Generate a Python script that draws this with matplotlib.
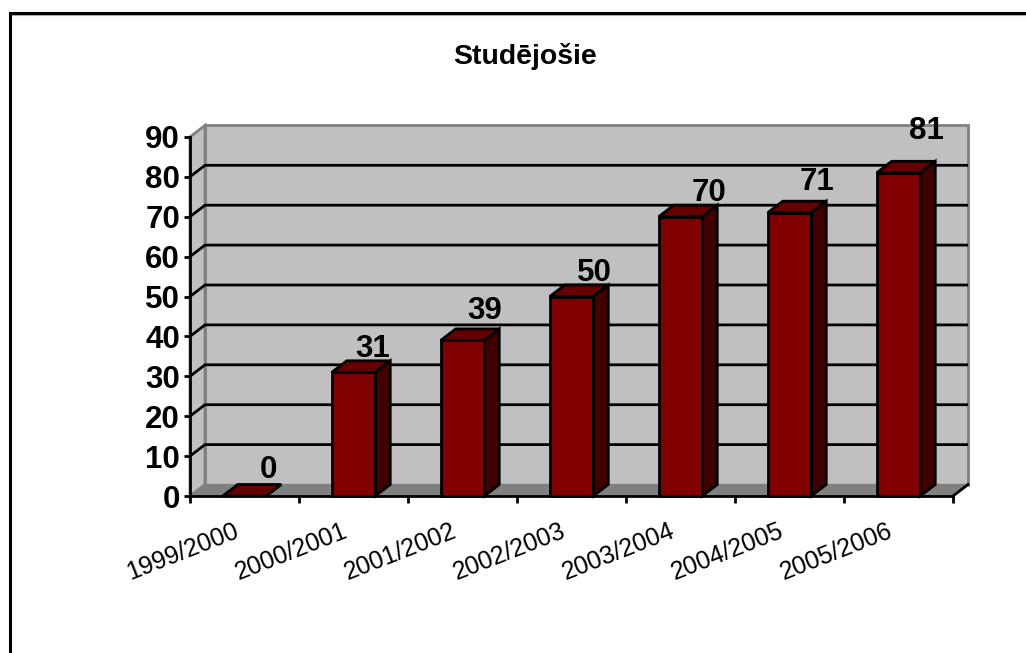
import matplotlib
matplotlib.use("Agg")
import matplotlib.pyplot as plt
from matplotlib.patches import Polygon

plt.rcParams['font.family'] = ['Liberation Sans', 'DejaVu Sans']

title = "Studējošie"
categories = ["1999/2000", "2000/2001", "2001/2002", "2002/2003",
              "2003/2004", "2004/2005", "2005/2006"]
values = [0, 31, 39, 50, 70, 71, 81]
y_ticks = [0, 10, 20, 30, 40, 50, 60, 70, 80, 90]
# hand-placed data label offsets from bar top / bar centre, in pixels
label_dx = [23.5, 19.5, 22.5, 22.5, 28.5, 27.5, 27.5]
label_dy = [26, 23, 29, 23.5, 24, 31, 42]

W, H = 1026, 653
fig = plt.figure(figsize=(W / 100, H / 100), dpi=100, facecolor="white")
ax = fig.add_axes([0, 0, 1, 1])
ax.set_axis_off()

# scale: 109 px per category, 3.99 px per unit; zero at pixel (190, 496)
PX, PY = 109.0, 3.99
ax.set_xlim(-0.5 - 190 / PX, -0.5 + (W - 190) / PX)
ax.set_ylim(-(H - 496) / PY, 496 / PY)
n = len(categories)
x0, x1 = -0.5, n - 0.5
ymax = y_ticks[-1]
dx, dy = 15 / PX, 11.5 / PY   # depth offset
bw = 43.5 / PX
LW = 2.0

def poly(pts, fc, ec="black", lw=LW, z=2):
    ax.add_patch(Polygon(pts, closed=True, fc=fc, ec=ec, lw=lw, zorder=z, joinstyle="miter"))
def px(x): return -0.5 + (x - 190) / PX
def py(y): return (496 - y) / PY

# outer frame: left and top edges only, as in the reference
ax.plot([px(10.5), px(10.5), px(W + 5)], [py(H + 5), py(12.8), py(12.8)],
        color="black", lw=2.2, zorder=1, solid_joinstyle="miter")
ax.plot([px(12), px(W + 5)], [py(14.5), py(14.5)], color="#b0b0b0", lw=0.8, zorder=0.9)

# walls and floor
GW, GE = "#c0c0c0", "#808080"
poly([(x0 + dx, dy), (x1 + dx, dy), (x1 + dx, ymax + dy), (x0 + dx, ymax + dy)], GW, ec=GE, lw=2, z=1.1)
poly([(x0, 0), (x0 + dx, dy), (x0 + dx, ymax + dy), (x0, ymax)], GW, ec=GE, lw=2, z=1.1)
poly([(x0, 0), (x1, 0), (x1 + dx, dy), (x0 + dx, dy)], GE, ec=GE, lw=1, z=1.2)

# gridlines
for t in y_ticks[1:-1]:
    ax.plot([x0, x0 + dx, x1 + dx], [t, t + dy, t + dy], color="black", lw=LW, zorder=1.5,
            solid_capstyle="butt")

# axes
ax.plot([x0, x0], [0, ymax], color="black", lw=LW, zorder=3, solid_capstyle="projecting")
ax.plot([x0, x1], [0, 0], color="black", lw=LW, zorder=3, solid_capstyle="projecting")
ax.plot([x1, x1 + dx], [0, dy], color="black", lw=LW, zorder=1.6)
for t in y_ticks:
    ax.plot([x0 - 6 / PX, x0], [t, t], color="black", lw=LW, zorder=3, solid_capstyle="butt")
    ax.text(x0 - 10 / PX, t - 3.5 / PY, str(t), ha="right", va="center", fontsize=22.5,
            fontweight="bold", color="black")
for i in range(n + 1):
    ax.plot([x0 + i, x0 + i], [0, -7 / PY], color="black", lw=LW, zorder=3, solid_capstyle="butt")

# category labels
for i, c in enumerate(categories):
    ax.text(i - 11 / PX, -22.5 / PY, c, rotation=21.5, rotation_mode="anchor", ha="right", va="top",
            fontsize=18, color="black")

# bars
FRONT, TOP, SIDE = "#800000", "#660000", "#400000"
for i, v in enumerate(values):
    l, r = i - bw / 2, i + bw / 2
    z = 4 + i * 0.01
    poly([(l, v), (r, v), (r + dx, v + dy), (l + dx, v + dy)], TOP, z=z)
    if v > 0:
        poly([(r, 0), (r + dx, dy), (r + dx, v + dy), (r, v)], SIDE, z=z)
        poly([(l, 0), (r, 0), (r, v), (l, v)], FRONT, z=z)
    ax.text(i + label_dx[i] / PX, v + label_dy[i] / PY, str(v), ha="center", va="center",
            fontsize=22.5, fontweight="bold", color="black", zorder=6)

ax.text(px(525.5), py(56), title, ha="center", va="center", fontsize=20.4, fontweight="bold",
        color="black")
fig.savefig("out.png", dpi=100, facecolor="white")
